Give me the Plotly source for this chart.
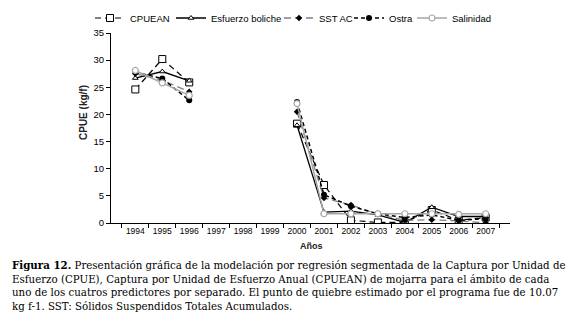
import plotly.graph_objects as go

years = ["1994", "1995", "1996", "1997", "1998", "1999", "2000",
         "2001", "2002", "2003", "2004", "2005", "2006", "2007"]
cpuean = [24.6, 30.2, 25.9, None, None, None, 18.3, 7.0, 0.5, 0.1, 0.1, 2.4, 0.5, 1.0]
esfuerzo = [26.7, 27.9, 26.2, None, None, None, 18.0, 2.0, 2.2, 1.5, 0.1, 2.9, 1.2, 1.2]
sst = [27.5, 26.3, 24.2, None, None, None, 20.5, 4.6, 3.3, 1.6, 0.5, 0.6, 0.4, 0.0]
ostra = [27.8, 26.6, 22.6, None, None, None, 22.3, 5.2, 3.1, 1.7, 1.0, 1.5, 0.5, 0.8]
salinidad = [28.1, 25.8, 23.5, None, None, None, 22.0, 1.7, 1.7, 1.7, 1.7, 1.7, 1.6, 1.7]

caption_lines = [
    "<b>Figura 12.</b> Presentación gráfica de la modelación por regresión segmentada de la Captura por Unidad de",
    "Esfuerzo (CPUE), Captura por Unidad de Esfuerzo Anual (CPUEAN) de mojarra para el ámbito de cada",
    "uno de los cuatros predictores por separado. El punto de quiebre estimado por el programa fue de 10.07",
    "kg f-1. SST: Sólidos Suspendidos Totales Acumulados.",
]

W, H = 580, 315
L, R, T, B = 103, 78, 25, 100
pw, ph = W - L - R, H - T - B

def px_x(p):
    return (p - L) / pw

def px_y(p):
    return (H - B - p) / ph

fig = go.Figure()
fig.add_trace(go.Scatter(x=years, y=cpuean, name="CPUEAN", mode="lines+markers", legend="legend",
                         line=dict(color="black", width=1.2, dash="6px,4px"),
                         marker=dict(symbol="square", size=7, color="white",
                                     line=dict(color="black", width=1))))
fig.add_trace(go.Scatter(x=years, y=esfuerzo, name="Esfuerzo boliche", mode="lines+markers", legend="legend2",
                         line=dict(color="black", width=1.3),
                         marker=dict(symbol="triangle-up", size=5, color="white",
                                     line=dict(color="black", width=1))))
fig.add_trace(go.Scatter(x=years, y=sst, name="SST AC", mode="lines+markers", legend="legend3",
                         line=dict(color="#808080", width=1.3, dash="7px,4px"),
                         marker=dict(symbol="diamond", size=5, color="black")))
fig.add_trace(go.Scatter(x=years, y=ostra, name="Ostra", mode="lines+markers", legend="legend4",
                         line=dict(color="black", width=1.5, dash="4px,3px"),
                         marker=dict(symbol="circle", size=6, color="black")))
fig.add_trace(go.Scatter(x=years, y=salinidad, name="Salinidad", mode="lines+markers", legend="legend5",
                         line=dict(color="#a6a6a6", width=1.5),
                         marker=dict(symbol="circle", size=6, color="white",
                                     line=dict(color="#a6a6a6", width=1.2))))

def leg(px_left):
    return dict(orientation="h", xref="container", yref="container",
                x=px_left / W, y=1 - 10 / H, xanchor="left", yanchor="middle",
                font=dict(size=9.5, family="Liberation Sans", color="black"),
                itemwidth=30, bgcolor="rgba(0,0,0,0)")

annotations = []
for i, line in enumerate(caption_lines):
    annotations.append(dict(text=line, x=px_x(2), y=px_y(257 + 13.7 * i), xref="paper", yref="paper",
                            xanchor="left", yanchor="middle", showarrow=False,
                            font=dict(family="DejaVu Serif", size=10.25, color="black")))
annotations.append(dict(text="<b>Años</b>", x=px_x(303), y=px_y(238), xref="paper", yref="paper",
                        xanchor="center", yanchor="middle", showarrow=False,
                        font=dict(family="Liberation Sans", size=9, color="#222")))
annotations.append(dict(text="<b>CPUE (kg/f)</b>", x=px_x(75), y=px_y(105), xref="paper", yref="paper",
                        xanchor="center", yanchor="middle", showarrow=False, textangle=-90,
                        font=dict(family="Liberation Sans", size=10, color="#222")))

fig.update_layout(
    width=W, height=H,
    margin=dict(l=L, r=R, t=T, b=B, autoexpand=False),
    paper_bgcolor="white", plot_bgcolor="white",
    font=dict(family="Liberation Sans", size=9, color="black"),
    showlegend=True,
    legend=leg(82), legend2=leg(163), legend3=leg(271), legend4=leg(341), legend5=leg(404),
    annotations=annotations,
    xaxis=dict(type="category", categoryorder="array", categoryarray=years,
               showline=True, linecolor="black", linewidth=1,
               ticks="outside", tickson="boundaries", ticklen=4, tickcolor="black",
               showgrid=False, zeroline=False, tickangle=0, tickfont=dict(size=8.5)),
    yaxis=dict(range=[0, 35], tickvals=[0, 5, 10, 15, 20, 25, 30, 35],
               showline=True, linecolor="black", linewidth=1,
               ticks="outside", ticklen=4, tickcolor="black",
               showgrid=False, zeroline=False, tickfont=dict(size=9.5)),
)

fig.write_html("out.html")
